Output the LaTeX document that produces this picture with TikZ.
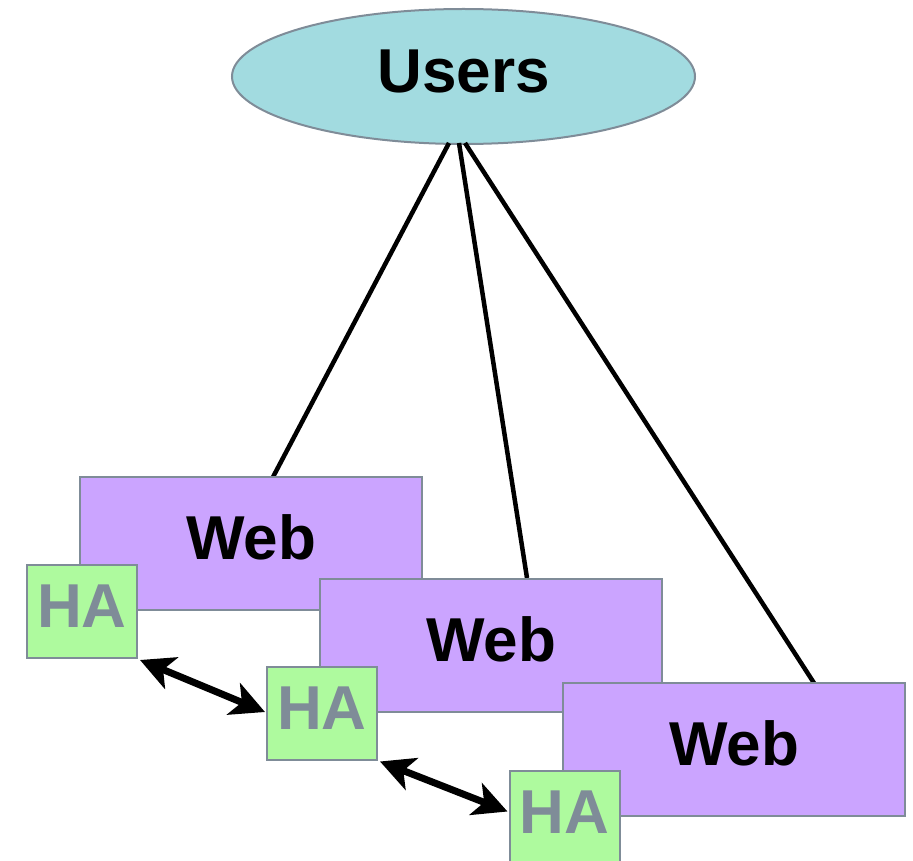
\documentclass[tikz,border=0pt]{standalone}
\usepackage{fontspec}
\setmainfont{Liberation Sans}
\usetikzlibrary{shapes.geometric,arrows.meta}
\definecolor{userfill}{HTML}{A2DBE0}
\definecolor{webfill}{HTML}{CBA4FF}
\definecolor{hafill}{HTML}{AEFA9E}
\definecolor{edgegray}{HTML}{7F8C98}
\tikzset{
  lbl/.style={font=\fontsize{62}{62}\selectfont\bfseries, text height=44pt, text depth=12pt, inner sep=0pt},
  usersnode/.style={lbl, ellipse, draw=edgegray, line width=2pt, fill=userfill,
    minimum width=463pt, minimum height=135pt},
  webbox/.style={lbl, rectangle, draw=edgegray, line width=2pt, fill=webfill,
    minimum width=342pt, minimum height=133pt},
  habox/.style={lbl, rectangle, draw=edgegray, line width=2pt, fill=hafill,
    text=edgegray, minimum width=110pt, minimum height=93pt},
  link/.style={line width=4.5pt, black},
  sync/.style={line width=7pt, black,
    {Stealth[length=34pt,width=34pt,inset=9pt]}-{Stealth[length=34pt,width=34pt,inset=9pt]}}
}
\begin{document}
\begin{tikzpicture}[x=1pt,y=-1pt]
  \useasboundingbox (0,0) rectangle (913,861);
  \clip (0,0) rectangle (913,861);

  % users
  \node[usersnode] (users) at (463.5,76.5) {Users};

  % connection endpoints on the ellipse rim
  \coordinate (u1) at (449,143);
  \coordinate (u2) at (459,143);
  \coordinate (u3) at (465,143);

  % where each connection meets the top of its web box
  \coordinate (w1top) at (273,477);
  \coordinate (w2top) at (527,578);
  \coordinate (w3top) at (814,683);

  \draw[link] (u1) -- (w1top);
  \draw[link] (u2) -- (w2top);
  \draw[link] (u3) -- (w3top);

  % web tier boxes with their HA agents
  \node[webbox] (web1) at (251,543.5) {Web};
  \node[habox]  (ha1)  at (82,611.5) {HA};
  \node[webbox] (web2) at (491,645) {Web};
  \node[habox]  (ha2)  at (322,713) {HA};
  \node[webbox] (web3) at (734,749.5) {Web};
  \node[habox]  (ha3)  at (564.5,817.5) {HA};

  % heartbeat links between HA agents
  \draw[sync] ([shift={(2,1)}]ha1.south east) -- ([shift={(-1,-1)}]ha2.west);
  \draw[sync] ([shift={(2,1)}]ha2.south east) -- ([shift={(-1,-6)}]ha3.west);
\end{tikzpicture}
\end{document}
